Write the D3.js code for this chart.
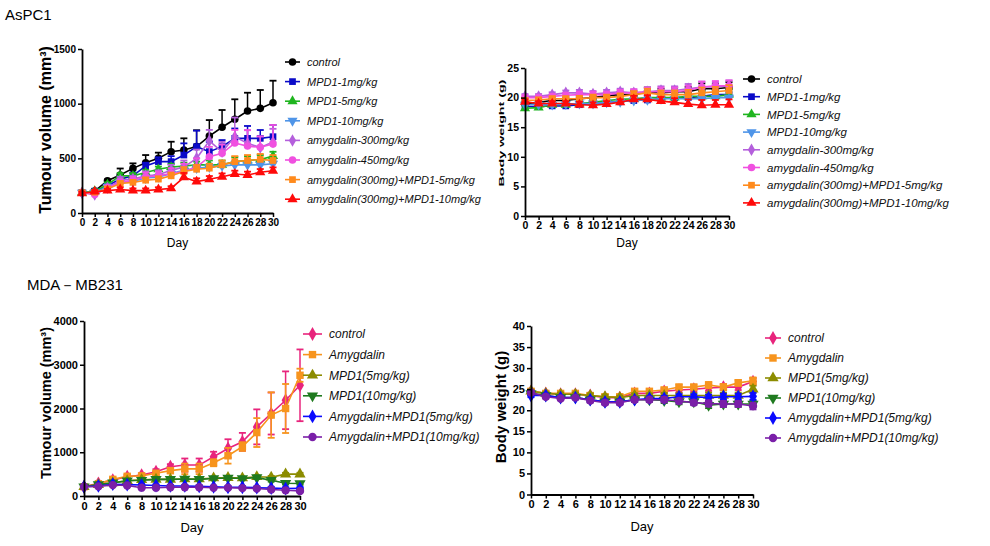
<!DOCTYPE html>
<html><head><meta charset="utf-8">
<script src="https://cdn.jsdelivr.net/npm/d3@7"></script>
<style>body{margin:0;background:#fff}svg{display:block}text{font-family:"Liberation Sans",Arial,sans-serif}</style>
</head><body><svg id="c" width="990" height="546"></svg>
<script>
// ---------- DATA ----------
const days = [0, 2, 4, 6, 8, 10, 12, 14, 16, 18, 20, 22, 24, 26, 28, 30];

// AsPC1 groups
const aspcGroups = ["control", "MPD1-1mg/kg", "MPD1-5mg/kg", "MPD1-10mg/kg", "amygdalin-300mg/kg", "amygdalin-450mg/kg", "amygdalin(300mg)+MPD1-5mg/kg", "amygdalin(300mg)+MPD1-10mg/kg"];
const aspcTumourControl = [186, 200, 295, 347, 408, 460, 500, 561, 576, 607, 704, 784, 857, 933, 957, 1009];
const aspcTumourMPD1_1 = [186, 200, 250, 310, 340, 430, 470, 470, 530, 607, 561, 607, 683, 683, 683, 698];
const aspcTumourMPD1_5 = [186, 200, 260, 340, 340, 370, 400, 420, 430, 440, 440, 440, 470, 480, 490, 520];
const aspcTumourMPD1_10 = [186, 190, 240, 280, 290, 320, 330, 360, 390, 410, 420, 430, 440, 440, 440, 450];
const aspcTumourAmyg300 = [186, 170, 230, 300, 310, 340, 350, 390, 420, 500, 660, 560, 698, 637, 600, 650];
const aspcTumourAmyg450 = [186, 170, 230, 280, 300, 330, 340, 360, 380, 420, 515, 546, 640, 612, 601, 631];
const aspcTumourCombo5 = [186, 190, 220, 270, 280, 300, 310, 340, 380, 400, 410, 440, 470, 480, 490, 480];
const aspcTumourCombo10 = [180, 195, 205, 215, 205, 205, 215, 225, 326, 287, 308, 332, 357, 348, 372, 387];
const aspcTumourControlErr = [20, 20, 12, 60, 46, 70, 52, 91, 107, 150, 146, 158, 183, 167, 168, 201];
const aspcTumourMPD1_1Err = [15, 15, 20, 30, 30, 30, 40, 50, 107, 146, 90, 60, 90, 113, 76, 107];
const aspcTumourMPD1_5Err = [15, 15, 20, 25, 25, 25, 25, 30, 30, 30, 40, 40, 40, 40, 40, 40];
const aspcTumourMPD1_10Err = [15, 15, 20, 20, 20, 20, 25, 25, 30, 30, 30, 30, 35, 35, 35, 35];
const aspcTumourAmyg300Err = [15, 15, 20, 30, 30, 40, 40, 50, 60, 80, 100, 90, 175, 120, 100, 120];
const aspcTumourAmyg450Err = [15, 15, 20, 30, 30, 40, 40, 50, 70, 80, 90, 80, 120, 147, 100, 174];
const aspcTumourCombo5Err = [15, 15, 20, 20, 20, 25, 25, 30, 40, 40, 40, 40, 50, 50, 50, 50];
const aspcTumourCombo10Err = [15, 15, 15, 20, 20, 20, 20, 20, 40, 30, 30, 30, 30, 30, 30, 30];

const aspcWeightControl = [19.0, 19.2, 19.5, 19.5, 19.8, 20.0, 20.3, 20.5, 20.5, 21.0, 20.8, 21.0, 21.0, 21.5, 21.5, 21.7];
const aspcWeightMPD1_1 = [18.5, 18.5, 18.6, 18.6, 18.8, 19.0, 19.2, 19.3, 19.5, 19.6, 19.8, 20.0, 20.0, 20.2, 20.5, 20.5];
const aspcWeightMPD1_5 = [18.2, 18.3, 18.8, 18.8, 19.0, 19.2, 19.5, 19.7, 19.8, 20.0, 20.0, 20.0, 20.2, 20.2, 20.2, 20.5];
const aspcWeightMPD1_10 = [18.8, 18.8, 18.8, 18.9, 19.0, 19.0, 19.2, 19.3, 19.5, 19.6, 19.8, 19.8, 19.8, 19.8, 20.0, 20.0];
const aspcWeightAmyg300 = [20.2, 20.2, 20.5, 20.8, 20.8, 20.6, 20.8, 21.0, 20.8, 21.0, 21.2, 21.2, 21.5, 21.8, 21.8, 22.0];
const aspcWeightAmyg450 = [20.0, 20.0, 20.2, 20.4, 20.5, 20.5, 20.5, 20.8, 20.8, 21.0, 21.0, 21.0, 21.2, 21.8, 22.0, 22.0];
const aspcWeightCombo5 = [19.5, 19.6, 19.8, 19.8, 19.8, 20.0, 20.0, 20.2, 20.5, 20.8, 20.5, 20.5, 20.5, 20.8, 21.0, 21.2];
const aspcWeightCombo10 = [19.3, 19.0, 19.0, 19.0, 18.8, 18.7, 18.9, 19.2, 19.7, 19.7, 19.4, 19.2, 18.9, 18.7, 18.8, 18.8];
const aspcWeightErr = [0.4, 0.4, 0.4, 0.4, 0.5, 0.5, 0.5, 0.5, 0.6, 0.7, 0.7, 0.7, 0.8, 0.9, 0.8, 0.9];

// MDA-MB231 groups
const mdaGroups = ["control", "Amygdalin", "MPD1(5mg/kg)", "MPD1(10mg/kg)", "Amygdalin+MPD1(5mg/kg)", "Amygdalin+MPD1(10mg/kg)"];
const mdaTumourControl = [212, 289, 365, 440, 479, 554, 668, 707, 707, 896, 1087, 1238, 1580, 1885, 2188, 2530];
const mdaTumourAmygdalin = [212, 280, 380, 450, 460, 520, 580, 620, 620, 760, 920, 1130, 1450, 1850, 2000, 2760];
const mdaTumourMPD1_5 = [212, 260, 300, 350, 370, 380, 380, 390, 390, 410, 420, 410, 440, 430, 500, 500];
const mdaTumourMPD1_10 = [212, 260, 300, 350, 360, 380, 380, 390, 380, 400, 410, 400, 420, 360, 290, 285];
const mdaTumourCombo5 = [212, 230, 270, 260, 250, 240, 230, 230, 220, 210, 200, 200, 190, 180, 170, 175];
const mdaTumourCombo10 = [212, 220, 250, 240, 190, 190, 200, 200, 200, 190, 190, 180, 170, 150, 130, 114];
const mdaTumourControlErr = [30, 40, 40, 40, 40, 60, 60, 150, 150, 115, 210, 205, 400, 480, 660, 820];
const mdaTumourAmygdalinErr = [30, 40, 40, 40, 40, 50, 60, 120, 120, 80, 180, 100, 330, 520, 560, 150];
const mdaTumourSmallErr = [20, 25, 25, 25, 25, 25, 25, 25, 25, 25, 25, 25, 30, 30, 30, 30];

const mdaWeightControl = [24.5, 24.0, 23.8, 23.8, 23.5, 23.0, 23.0, 24.0, 24.0, 24.5, 24.8, 25.0, 25.3, 25.5, 25.5, 26.8];
const mdaWeightAmygdalin = [24.5, 24.0, 24.0, 24.0, 23.5, 23.2, 23.2, 24.5, 24.5, 24.8, 25.5, 25.5, 26.0, 25.5, 26.5, 27.0];
const mdaWeightMPD1_5 = [24.5, 24.0, 23.8, 23.8, 23.5, 23.2, 23.0, 23.5, 23.5, 23.5, 23.5, 23.5, 23.5, 23.5, 23.5, 25.0];
const mdaWeightMPD1_10 = [24.0, 23.5, 23.0, 23.0, 22.5, 22.0, 22.0, 22.5, 22.5, 22.3, 22.0, 22.0, 21.2, 21.5, 21.5, 21.5];
const mdaWeightCombo5 = [23.5, 23.5, 23.0, 23.0, 22.5, 22.0, 22.0, 22.5, 22.8, 22.8, 23.2, 23.2, 23.0, 23.2, 23.2, 23.3];
const mdaWeightCombo10 = [24.2, 23.2, 22.8, 23.0, 22.3, 21.8, 21.8, 22.5, 22.5, 22.5, 22.2, 21.8, 21.6, 21.5, 21.5, 21.0];
const mdaWeightErr = [0.4, 0.4, 0.4, 0.4, 0.5, 0.5, 0.5, 0.5, 0.5, 0.6, 0.6, 0.6, 0.7, 0.7, 0.7, 0.8];

const aspcTumourTicks = [0, 500, 1000, 1500];
const aspcWeightTicks = [0, 5, 10, 15, 20, 25];
const mdaTumourTicks = [0, 1000, 2000, 3000, 4000];
const mdaWeightTicks = [0, 5, 10, 15, 20, 25, 30, 35, 40];

// ---------- STYLE ----------
const aspcColors = ["#000000", "#0a0ac8", "#1fb51f", "#4f95e8", "#b45fdc", "#f050e0", "#ff8a1c", "#ff0a0a"];
const aspcShapes = ["circle", "square", "triangle", "triangleDown", "diamond", "circle", "square", "triangle"];
const mdaColors = ["#e8247c", "#f7941d", "#8c8c00", "#1f7a1f", "#0a0aff", "#7a1fa8"];
const mdaShapes = ["diamond", "square", "triangle", "triangleDown", "diamond", "circle"];

const svg = d3.select("#c");
const symMap = {circle: d3.symbolCircle, square: d3.symbolSquare, triangle: d3.symbolTriangle, triangleDown: d3.symbolTriangle, diamond: d3.symbolDiamond};

function marker(g, shape, cx, cy, size, color) {
  g.append("path")
    .attr("d", d3.symbol().type(symMap[shape]).size(size)())
    .attr("transform", `translate(${cx},${cy})` + (shape === "triangleDown" ? " rotate(180)" : ""))
    .attr("fill", color);
}

function panel(c) {
  const x = d3.scaleLinear().domain([0, 30]).range([c.x0, c.x1]);
  const y = d3.scaleLinear().domain([0, c.yMax]).range([c.yb, c.yt]);
  const g = svg.append("g");
  c.means.forEach((m, i) => {
    const col = c.colors[i];
    const sg = g.append("g");
    const e = c.errs[i];
    days.forEach((d, j) => {
      const top = y(m[j] + e[j]);
      const bot = c.both ? y(Math.max(0, m[j] - e[j])) : y(m[j]);
      sg.append("line").attr("x1", x(d)).attr("x2", x(d)).attr("y1", top).attr("y2", bot)
        .attr("stroke", col).attr("stroke-width", 1.5);
      sg.append("line").attr("x1", x(d) - c.cap).attr("x2", x(d) + c.cap).attr("y1", top).attr("y2", top)
        .attr("stroke", col).attr("stroke-width", 1.8);
      if (c.both) sg.append("line").attr("x1", x(d) - c.cap).attr("x2", x(d) + c.cap).attr("y1", bot).attr("y2", bot)
        .attr("stroke", col).attr("stroke-width", 1.8);
    });
    sg.append("path").datum(m)
      .attr("d", d3.line().x((v, j) => x(days[j])).y(v => y(v)))
      .attr("fill", "none").attr("stroke", col).attr("stroke-width", 1.6);
    days.forEach((d, j) => marker(sg, c.shapes[i], x(d), y(m[j]), c.msize, col));
  });
  const ya = g.append("g").attr("transform", `translate(${c.x0},0)`)
    .call(d3.axisLeft(y).tickValues(c.yTicks).tickFormat(d3.format("d")).tickSize(4).tickSizeOuter(0).tickPadding(2));
  const xa = g.append("g").attr("transform", `translate(0,${c.yb})`)
    .call(d3.axisBottom(x).tickValues(days).tickFormat(d3.format("d")).tickSize(4).tickSizeOuter(0).tickPadding(2));
  [ya, xa].forEach(a => {
    a.select(".domain").attr("stroke", "#000").attr("stroke-width", 1.8);
    a.selectAll(".tick line").attr("stroke", "#000").attr("stroke-width", 1.5);
    a.selectAll(".tick text").attr("fill", "#000").attr("font-size", c.tickFont)
      .attr("font-weight", "bold").attr("font-family", '"Liberation Sans",Arial,sans-serif');
  });
  g.append("text").attr("transform", `translate(${c.ytx},${c.yty}) rotate(-90) scale(${c.ytScale[0]},${c.ytScale[1]})`)
    .attr("text-anchor", "middle").attr("font-weight", "bold").attr("font-size", c.ytSize).text(c.yTitle);
  g.append("text").attr("x", (c.x0 + c.x1) / 2).attr("y", c.dayY).attr("text-anchor", "middle")
    .attr("font-size", c.daySize).text("Day");
  c.names.forEach((n, i) => {
    const ly = c.ly0 + i * c.lstep;
    const col = c.colors[i];
    g.append("line").attr("x1", c.lx).attr("x2", c.lx + c.lw).attr("y1", ly).attr("y2", ly)
      .attr("stroke", col).attr("stroke-width", 1.6);
    marker(g, c.shapes[i], c.lx + c.lw / 2, ly, c.msize, col);
    g.append("text").attr("x", c.lx + c.lw + 7).attr("y", ly + c.lFont * 0.36)
      .attr("font-style", "italic").attr("font-size", c.lFont).attr("fill", "#111").text(n);
  });
}

panel({
  x0: 82, x1: 273, yb: 213, yt: 49, yMax: 1500, yTicks: aspcTumourTicks,
  means: [aspcTumourControl, aspcTumourMPD1_1, aspcTumourMPD1_5, aspcTumourMPD1_10, aspcTumourAmyg300, aspcTumourAmyg450, aspcTumourCombo5, aspcTumourCombo10],
  errs: [aspcTumourControlErr, aspcTumourMPD1_1Err, aspcTumourMPD1_5Err, aspcTumourMPD1_10Err, aspcTumourAmyg300Err, aspcTumourAmyg450Err, aspcTumourCombo5Err, aspcTumourCombo10Err],
  colors: aspcColors, shapes: aspcShapes, names: aspcGroups, both: false, cap: 3.5, msize: 45,
  tickFont: 10, yTitle: "Tumour volume (mm³)", ytx: 51, yty: 130, ytSize: 16, ytScale: [1, 1], dayY: 247, daySize: 12,
  lx: 285, lw: 15, ly0: 62, lstep: 19.6, lFont: 11
});
panel({
  x0: 525, x1: 729, yb: 216, yt: 68, yMax: 25, yTicks: aspcWeightTicks,
  means: [aspcWeightControl, aspcWeightMPD1_1, aspcWeightMPD1_5, aspcWeightMPD1_10, aspcWeightAmyg300, aspcWeightAmyg450, aspcWeightCombo5, aspcWeightCombo10],
  errs: [aspcWeightErr, aspcWeightErr, aspcWeightErr, aspcWeightErr, aspcWeightErr, aspcWeightErr, aspcWeightErr, aspcWeightErr],
  colors: aspcColors, shapes: aspcShapes, names: aspcGroups, both: false, cap: 3.5, msize: 45,
  tickFont: 10.5, yTitle: "Body weight (g)", ytx: 504, yty: 133, ytSize: 13, ytScale: [1.1, 0.62], dayY: 247, daySize: 12,
  lx: 743, lw: 17, ly0: 79, lstep: 17.7, lFont: 11.5
});
panel({
  x0: 84, x1: 300, yb: 496, yt: 321, yMax: 4000, yTicks: mdaTumourTicks,
  means: [mdaTumourControl, mdaTumourAmygdalin, mdaTumourMPD1_5, mdaTumourMPD1_10, mdaTumourCombo5, mdaTumourCombo10],
  errs: [mdaTumourControlErr, mdaTumourAmygdalinErr, mdaTumourSmallErr, mdaTumourSmallErr, mdaTumourSmallErr, mdaTumourSmallErr],
  colors: mdaColors, shapes: mdaShapes, names: mdaGroups, both: true, cap: 3.5, msize: 55,
  tickFont: 11, yTitle: "Tumour volume (mm³)", ytx: 51, yty: 403, ytSize: 14.5, ytScale: [1, 1], dayY: 532, daySize: 13,
  lx: 303, lw: 19, ly0: 334, lstep: 20.6, lFont: 12
});
panel({
  x0: 531, x1: 753, yb: 494.5, yt: 326, yMax: 40, yTicks: mdaWeightTicks,
  means: [mdaWeightControl, mdaWeightAmygdalin, mdaWeightMPD1_5, mdaWeightMPD1_10, mdaWeightCombo5, mdaWeightCombo10],
  errs: [mdaWeightErr, mdaWeightErr, mdaWeightErr, mdaWeightErr, mdaWeightErr, mdaWeightErr],
  colors: mdaColors, shapes: mdaShapes, names: mdaGroups, both: true, cap: 3.5, msize: 55,
  tickFont: 11, yTitle: "Body weight (g)", ytx: 506, yty: 407, ytSize: 15, ytScale: [1, 1], dayY: 531, daySize: 13,
  lx: 765, lw: 16, ly0: 338, lstep: 20, lFont: 12
});

svg.append("text").attr("x", 5).attr("y", 20).attr("font-size", 15).text("AsPC1");
svg.append("text").attr("x", 27).attr("y", 290).attr("font-size", 15).text("MDA－MB231");
</script></body></html>
